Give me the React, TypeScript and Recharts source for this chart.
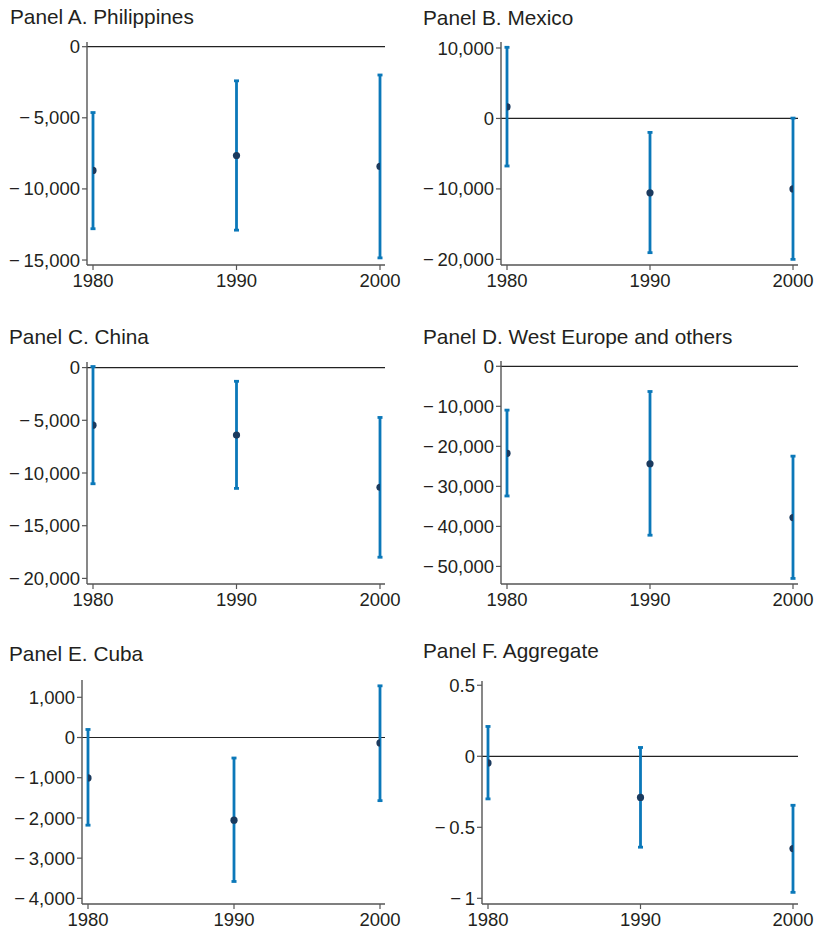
import React from 'react';
import { ScatterChart, Scatter, XAxis, YAxis, ErrorBar, ReferenceLine } from 'recharts';

const years = [1980, 1990, 2000];
const xTicks = [1980, 1990, 2000];

// Panel A. Philippines
const estA = [-8700, -7650, -8420];
const lowA = [-12800, -12900, -14850];
const highA = [-4630, -2400, -1990];
const ticksA = [0, -5000, -10000, -15000];

// Panel B. Mexico
const estB = [1650, -10550, -10000];
const lowB = [-6750, -19050, -20000];
const highB = [10100, -1980, 50];
const ticksB = [10000, 0, -10000, -20000];

// Panel C. China
const estC = [-5460, -6400, -11350];
const lowC = [-11020, -11460, -17990];
const highC = [100, -1300, -4730];
const ticksC = [0, -5000, -10000, -15000, -20000];

// Panel D. West Europe and others
const estD = [-21750, -24350, -37800];
const lowD = [-32400, -42200, -53000];
const highD = [-10950, -6300, -22450];
const ticksD = [0, -10000, -20000, -30000, -40000, -50000];

// Panel E. Cuba
const estE = [-1005, -2055, -135];
const lowE = [-2180, -3580, -1570];
const highE = [200, -510, 1285];
const ticksE = [1000, 0, -1000, -2000, -3000, -4000];

// Panel F. Aggregate
const estF = [-0.047, -0.29, -0.65];
const lowF = [-0.3, -0.64, -0.958];
const highF = [0.21, 0.062, -0.345];
const ticksF = [0.5, 0, -0.5, -1];

const FONT = '"Liberation Sans", Arial, Helvetica, sans-serif';
const TEXT = '#231f20';
const AXIS = '#555555';
const BAR = '#0b78b9';
const DOT = '#1b3a5e';
const TICK_FS = 18.5;
const RIGHT_PAD = 16;

const build = (est: number[], low: number[], high: number[]) =>
  years.map((y, i) => ({ year: y, est: est[i], err: [est[i] - low[i], high[i] - est[i]] }));

const fmt = (v: number) => {
  const s = Math.abs(v).toLocaleString('en-US');
  return v < 0 ? '\u2212\u2009' + s : s;
};

type PanelProps = {
  title: string;
  titleX: number;
  titleY: number;
  data: { year: number; est: number; err: number[] }[];
  ticks: number[];
  domain: [number, number];
  chartLeft: number;
  plotLeft: number;
  plotTop: number;
  plotRight: number;
  plotBottom: number;
};

const Dot = (p: any) => <circle cx={p.cx} cy={p.cy} r={3.6} fill={DOT} />;
const NoDot = () => <g />;

const Panel = (p: PanelProps) => {
  const width = p.plotRight - p.chartLeft + RIGHT_PAD;
  const height = p.plotBottom - p.plotTop + 40;
  return (
    <div style={{ position: 'absolute', left: p.chartLeft, top: p.plotTop - 10, width, height }}>
      <ScatterChart width={width} height={height} margin={{ top: 10, right: RIGHT_PAD, bottom: 0, left: 0 }}>
        <XAxis
          type="number"
          dataKey="year"
          domain={[1980, 2000]}
          ticks={xTicks}
          padding={{ left: 6, right: 5 }}
          height={30}
          tickSize={5}
          tickMargin={4}
          axisLine={{ stroke: AXIS, strokeWidth: 1.4 }}
          tickLine={{ stroke: AXIS, strokeWidth: 1.2 }}
          tick={{ fill: TEXT, fontSize: TICK_FS, fontFamily: FONT }}
          allowDataOverflow
        />
        <YAxis
          type="number"
          dataKey="est"
          domain={p.domain}
          ticks={p.ticks}
          width={p.plotLeft - p.chartLeft}
          tickSize={5}
          tickMargin={2}
          tickFormatter={fmt}
          axisLine={{ stroke: AXIS, strokeWidth: 1.4 }}
          tickLine={{ stroke: AXIS, strokeWidth: 1.2 }}
          tick={{ fill: TEXT, fontSize: TICK_FS, fontFamily: FONT }}
          allowDataOverflow
        />
        <ReferenceLine y={0} stroke="#222" strokeWidth={1.2} ifOverflow="extendDomain" />
        <Scatter data={p.data} fill={BAR} shape={NoDot} isAnimationActive={false}>
          <ErrorBar dataKey="err" direction="y" width={2.5} stroke={BAR} strokeWidth={2.8} isAnimationActive={false} />
        </Scatter>
        <Scatter data={p.data} fill={DOT} shape={Dot} isAnimationActive={false} />
      </ScatterChart>
    </div>
  );
};

const panels: PanelProps[] = [
  { title: 'Panel A. Philippines', titleX: 10, titleY: 24, data: build(estA, lowA, highA), ticks: ticksA, domain: [-15350, 330], chartLeft: 0, plotLeft: 87, plotTop: 42, plotRight: 385, plotBottom: 265 },
  { title: 'Panel B. Mexico', titleX: 423, titleY: 25, data: build(estB, lowB, highB), ticks: ticksB, domain: [-20800, 10850], chartLeft: 405, plotLeft: 501, plotTop: 42, plotRight: 798, plotBottom: 265 },
  { title: 'Panel C. China', titleX: 9, titleY: 344, data: build(estC, lowC, highC), ticks: ticksC, domain: [-20530, 530], chartLeft: 0, plotLeft: 87, plotTop: 362, plotRight: 385, plotBottom: 584 },
  { title: 'Panel D. West Europe and others', titleX: 423, titleY: 344, data: build(estD, lowD, highD), ticks: ticksD, domain: [-54390, 1320], chartLeft: 405, plotLeft: 501, plotTop: 361, plotRight: 798, plotBottom: 584 },
  { title: 'Panel E. Cuba', titleX: 9, titleY: 661, data: build(estE, lowE, highE), ticks: ticksE, domain: [-4140, 1430], chartLeft: 0, plotLeft: 82, plotTop: 680, plotRight: 385, plotBottom: 904 },
  { title: 'Panel F. Aggregate', titleX: 423, titleY: 658, data: build(estF, lowF, highF), ticks: ticksF, domain: [-1.04, 0.53], chartLeft: 405, plotLeft: 482, plotTop: 681, plotRight: 798, plotBottom: 904 },
];

export default function App() {
  return (
    <div style={{ position: 'absolute', left: 0, top: 0, width: 814, height: 931, background: '#fff', overflow: 'hidden' }}>
      <svg width={814} height={931} style={{ position: 'absolute', left: 0, top: 0 }}>
        {panels.map((p) => (
          <text key={p.title} x={p.titleX} y={p.titleY} fill={TEXT} fontSize={20.8} fontFamily={FONT}>
            {p.title}
          </text>
        ))}
      </svg>
      {panels.map((p) => (
        <Panel key={p.title} {...p} />
      ))}
    </div>
  );
}
